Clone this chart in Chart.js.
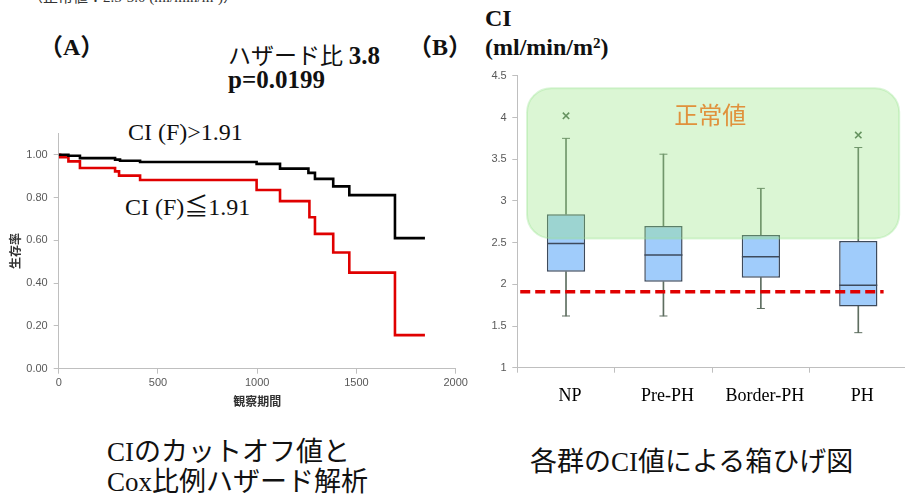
<!DOCTYPE html>
<html>
<head>
<meta charset="utf-8">
<script src="https://cdn.jsdelivr.net/npm/chart.js@4/dist/chart.umd.min.js"></script>
<style>
  html, body { margin:0; padding:0; background:#fff; width:905px; height:499px; overflow:hidden; }
  body { position:relative; font-family:"Liberation Serif","Noto Sans CJK JP",serif; color:#111; }
  .t { position:absolute; white-space:nowrap; line-height:1; }
  canvas { position:absolute; }
  .b { font-weight:bold; }
  .jp { font-family:"Noto Sans CJK JP",sans-serif; }
</style>
</head>
<body>
<div class="t" style="left:28px; top:-10px; font-size:15px; color:#333;">（正常値：2.5-3.0 (ml/min/m²)）</div>
<div class="t b" style="left:39px; top:35px; font-size:24px;">（A）</div>
<div class="t" style="left:228px; top:43px; font-size:23px;"><span class="jp">ハザード比</span> <span class="b" style="font-size:25px;">3.8</span></div>
<div class="t b" style="left:228px; top:67px; font-size:25px;">p=0.0199</div>
<div class="t b" style="left:408px; top:35px; font-size:24px;">（B）</div>
<div class="t b" style="left:485px; top:6px; font-size:24px;">CI</div>
<div class="t b" style="left:485px; top:35px; font-size:24px;">(ml/min/m<sup style="font-size:15px; vertical-align:7px;">2</sup>)</div>
<div class="t" style="left:128px; top:120px; font-size:24px;">CI (F)&gt;1.91</div>
<div class="t" style="left:125px; top:195px; font-size:24px;">CI (F)≦1.91</div>
<div class="t" style="left:107px; top:439px; font-size:27px;">CIのカットオフ値と</div>
<div class="t" style="left:107px; top:469px; font-size:27px;">Cox比例ハザード解析</div>
<div class="t" style="left:530px; top:449px; font-size:27px;">各群のCI値による箱ひげ図</div>

<canvas id="km" width="470" height="300" style="left:0px; top:120px;"></canvas>
<canvas id="box" width="450" height="360" style="left:460px; top:60px;"></canvas>

<script>
// ---------- Panel A: Kaplan-Meier data ----------
const kmTimesHigh = [0, 49, 107, 284, 309, 410, 997, 1115, 1258, 1291, 1383, 1464, 1694, 1845];
const kmSurvHigh  = [1.00, 0.995, 0.984, 0.977, 0.972, 0.966, 0.957, 0.935, 0.915, 0.887, 0.852, 0.811, 0.610, 0.610];
const kmTimesLow  = [0, 7, 49, 107, 284, 304, 410, 997, 1115, 1263, 1291, 1383, 1464, 1694, 1845];
const kmSurvLow   = [1.00, 0.988, 0.969, 0.938, 0.922, 0.902, 0.882, 0.835, 0.783, 0.708, 0.630, 0.543, 0.449, 0.157, 0.157];
const kmXTicks = [0, 500, 1000, 1500, 2000];
const kmYTicks = [0, 0.2, 0.4, 0.6, 0.8, 1.0];

// ---------- Panel B: box plot data ----------
const groups     = ['NP', 'Pre-PH', 'Border-PH', 'PH'];
const boxMin     = [1.62, 1.62, 1.71, 1.42];
const boxQ1      = [2.15, 2.03, 2.08, 1.735];
const boxMedian  = [2.49, 2.35, 2.33, 1.99];
const boxQ3      = [2.84, 2.70, 2.59, 2.52];
const boxMax     = [3.75, 3.56, 3.15, 3.64];
const outliers   = [4.02, null, null, 3.79];
const ciYTicks   = [1, 1.5, 2, 2.5, 3, 3.5, 4, 4.5];
const cutoffCI   = 1.91;
const cutoffSpan = [-0.47, 3.26];      // category-index extent of dashed line
const normalRange = [2.55, 4.35];      // shaded "正常値" band (CI values)
const normalSpan  = [-0.40, 3.42];     // category-index extent of band
const normalLabel = '正常値';
const normalLabelPos = [1.48, 4.03];

const GRAY = '#BFBFBF';
const noPadX = s => { s.paddingLeft = 0; s.paddingRight = 0; };
const noPadY = s => { s.paddingTop = 0; s.paddingBottom = 0; };

// ---------- Chart A ----------
new Chart(document.getElementById('km'), {
  type: 'line',
  data: {
    datasets: [
      { data: kmTimesHigh.map((t,i)=>({x:t, y:kmSurvHigh[i]})), stepped: true,
        borderColor: '#000', borderWidth: 2.6, pointRadius: 0, fill: false },
      { data: kmTimesLow.map((t,i)=>({x:t, y:kmSurvLow[i]})), stepped: true,
        borderColor: '#E00000', borderWidth: 2.6, pointRadius: 0, fill: false }
    ]
  },
  options: {
    responsive: false, animation: false, events: [],
    layout: { autoPadding: false, padding: { left: 0, top: 13.3, right: 14.3, bottom: 0 } },
    plugins: { legend: { display: false }, tooltip: { enabled: false } },
    scales: {
      x: {
        type: 'linear', min: kmXTicks[0], max: kmXTicks[kmXTicks.length-1],
        afterBuildTicks: s => { s.ticks = kmXTicks.map(v => ({value: v})); },
        afterFit: s => { s.height = 51.3; noPadX(s); },
        grid: { drawOnChartArea: false, tickLength: 5, color: GRAY },
        border: { color: GRAY, width: 1 },
        ticks: { padding: 2.4, color: '#595959', font: { size: 11, family: 'Liberation Sans' },
                 maxRotation: 0, callback: v => String(v) },
        title: { display: true, text: '観察期間', color: '#333',
                 font: { size: 12, weight: 'bold', family: '"Noto Sans CJK JP"' },
                 padding: { top: 0, bottom: 11.1 } }
      },
      y: {
        min: 0, max: 1.1,
        afterBuildTicks: s => { s.ticks = kmYTicks.map(v => ({value: v})); },
        afterFit: s => { s.width = 58.7; noPadY(s); },
        grid: { drawOnChartArea: false, tickLength: 5, color: GRAY },
        border: { color: GRAY, width: 1 },
        ticks: { padding: 6, color: '#595959', font: { size: 11, family: 'Liberation Sans' },
                 callback: v => Number(v).toFixed(2) },
        title: { display: true, text: '生存率', color: '#333',
                 font: { size: 12, weight: 'bold', family: '"Noto Sans CJK JP"' },
                 padding: { top: 7.8, bottom: 0 } }
      }
    }
  }
});

// ---------- Chart B ----------
const overlayPlugin = {
  id: 'overlay',
  afterDatasetsDraw(chart) {
    const { ctx, scales: { x, y } } = chart;
    ctx.save();
    const x0 = x.getPixelForValue(normalSpan[0]), x1 = x.getPixelForValue(normalSpan[1]);
    const y0 = y.getPixelForValue(normalRange[1]), y1 = y.getPixelForValue(normalRange[0]);
    ctx.beginPath();
    ctx.roundRect(x0, y0, x1 - x0, y1 - y0, 24);
    ctx.fillStyle = 'rgba(150,230,130,0.34)';
    ctx.fill();
    ctx.lineWidth = 2;
    ctx.strokeStyle = 'rgba(150,225,140,0.35)';
    ctx.stroke();
    ctx.fillStyle = '#E0913C';
    ctx.font = '24px "Noto Sans CJK JP"';
    ctx.textAlign = 'center';
    ctx.textBaseline = 'middle';
    ctx.fillText(normalLabel, x.getPixelForValue(normalLabelPos[0]), y.getPixelForValue(normalLabelPos[1]));
    // cutoff dashed line
    const yc = y.getPixelForValue(cutoffCI);
    ctx.beginPath();
    ctx.setLineDash([10, 5]);
    ctx.lineWidth = 3.6;
    ctx.strokeStyle = '#E00000';
    ctx.moveTo(x.getPixelForValue(cutoffSpan[0]), yc);
    ctx.lineTo(x.getPixelForValue(cutoffSpan[1]), yc);
    ctx.stroke();
    ctx.restore();
  }
};

const WHISK = '#5E6E60';
const EDGE = '#3D4A5C';
new Chart(document.getElementById('box'), {
  type: 'bar',
  data: {
    labels: groups,
    datasets: [
      { type: 'line', data: outliers, showLine: false, pointStyle: 'crossRot', pointRadius: 4.5,
        pointBorderWidth: 1.6, pointBorderColor: '#4E6A4F', order: 1 },
      { type: 'line', data: boxMax, showLine: false, pointStyle: 'line', pointRadius: 4,
        pointBorderWidth: 1, pointBorderColor: WHISK, order: 2 },
      { type: 'line', data: boxMin, showLine: false, pointStyle: 'line', pointRadius: 4,
        pointBorderWidth: 1, pointBorderColor: WHISK, order: 2 },
      { type: 'line', data: boxMedian, showLine: false, pointStyle: 'line', pointRadius: 19,
        pointBorderWidth: 1.5, pointBorderColor: EDGE, order: 3 },
      { type: 'bar', data: groups.map((g,i)=>[boxQ1[i], boxQ3[i]]), grouped: false,
        backgroundColor: '#A0CCFB', borderColor: EDGE, borderWidth: 1.5, borderSkipped: false,
        barPercentage: 0.393, categoryPercentage: 1, order: 4 },
      { type: 'bar', data: groups.map((g,i)=>[boxQ3[i], boxMax[i]]), grouped: false,
        backgroundColor: WHISK, barThickness: 1, order: 5 },
      { type: 'bar', data: groups.map((g,i)=>[boxMin[i], boxQ1[i]]), grouped: false,
        backgroundColor: WHISK, barThickness: 1, order: 5 }
    ]
  },
  options: {
    responsive: false, animation: false, events: [],
    layout: { autoPadding: false, padding: { left: 0, top: 15.8, right: 3, bottom: 0 } },
    plugins: { legend: { display: false }, tooltip: { enabled: false } },
    scales: {
      x: {
        offset: true,
        afterFit: s => { s.height = 52.3; noPadX(s); },
        grid: { drawOnChartArea: false, tickLength: 5, color: GRAY, offset: true },
        border: { color: GRAY, width: 1 },
        ticks: { padding: 13.2, labelOffset: 4, color: '#000',
                 font: { size: 18, family: '"Liberation Serif"' }, maxRotation: 0 }
      },
      y: {
        min: ciYTicks[0], max: ciYTicks[ciYTicks.length-1],
        afterBuildTicks: s => { s.ticks = ciYTicks.map(v => ({value: v})); },
        afterFit: s => { s.width = 57.3; noPadY(s); },
        grid: { drawOnChartArea: false, tickLength: 5, color: GRAY },
        border: { color: GRAY, width: 1 },
        ticks: { padding: 5.6, color: '#595959', font: { size: 11, family: 'Liberation Sans' },
                 callback: v => String(v) }
      }
    }
  },
  plugins: [overlayPlugin]
});
</script>
</body>
</html>
